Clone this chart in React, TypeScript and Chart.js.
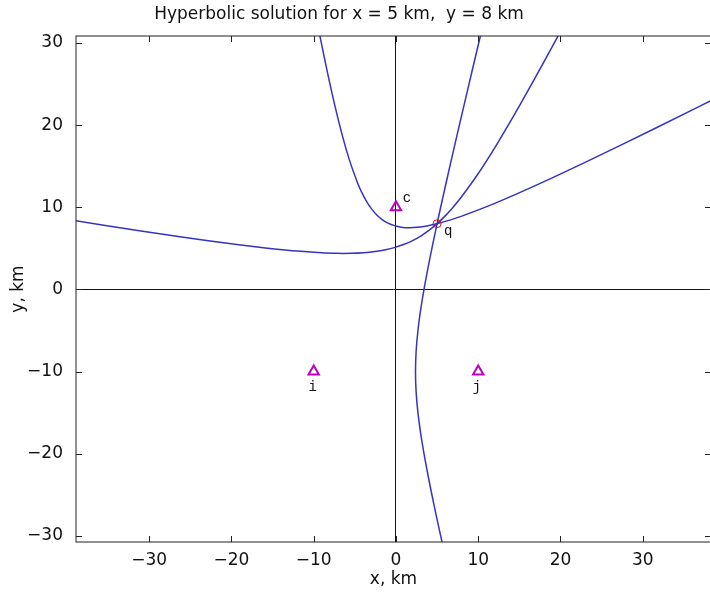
import React, { useEffect, useRef } from 'react';
import { Chart, registerables } from 'chart.js';

Chart.register(...registerables);

// ---- text ----
const chartTitle = 'Hyperbolic solution for x = 5 km,  y = 8 km';
const xAxisLabel = 'x, km';
const yAxisLabel = 'y, km';
const xTickValues = [-30, -20, -10, 0, 10, 20, 30];
const yTickValues = [-30, -20, -10, 0, 10, 20, 30];

// ---- stations and the located source ----
const stationNames = ['c', 'i', 'j'];
const stationX = [0, -10, 10];
const stationY = [10, -10, -10];
const targetName = 'q';
const targetX = [5];
const targetY = [8];

// ---- hyperbola branch for the c / i pair ----
const branchCIx = [-9.517, -8.082, -6.84, -5.713, -4.632, -4.087, -3.527, -2.945, -2.33, -1.673, -0.965, -0.193, 0.654, 1.589, 2.627, 3.785, 5.08, 6.533, 8.166, 12.08, 17.066, 23.439, 31.598, 42.057];
const branchCIy = [32.161, 25.272, 19.97, 15.923, 12.876, 11.666, 10.639, 9.778, 9.07, 8.503, 8.07, 7.763, 7.578, 7.511, 7.562, 7.731, 8.02, 8.436, 8.983, 10.51, 12.698, 15.683, 19.654, 24.859];

// ---- hyperbola branch for the c / j pair ----
const branchCJx = [-46.979, -35.346, -26.248, -19.114, -13.494, -9.037, -7.154, -5.461, -3.932, -2.542, -1.271, -0.098, 0.996, 2.027, 3.011, 3.964, 4.901, 5.837, 6.786, 7.762, 9.861, 12.265, 15.126, 18.622, 22.974];
const branchCJy = [9.664, 7.792, 6.409, 5.429, 4.79, 4.452, 4.388, 4.393, 4.467, 4.611, 4.826, 5.118, 5.489, 5.946, 6.497, 7.149, 7.913, 8.8, 9.825, 11.004, 13.9, 17.669, 22.548, 28.844, 36.951];

// ---- hyperbola branch for the i / j pair ----
const branchIJx = [5.991, 5.435, 4.893, 4.369, 3.87, 3.408, 3.0, 2.671, 2.452, 2.375, 2.452, 2.671, 3.0, 3.408, 3.87, 4.369, 4.893, 5.435, 5.991, 6.556, 7.129, 7.708, 8.292, 8.879, 9.47, 10.062, 10.657];
const branchIJy = [-32.5, -30, -27.5, -25, -22.5, -20, -17.5, -15, -12.5, -10, -7.5, -5, -2.5, 0, 2.5, 5, 7.5, 10, 12.5, 15, 17.5, 20, 22.5, 25, 27.5, 30, 32.5];

const toPoints = (xs: number[], ys: number[]) => xs.map((x, k) => ({ x, y: ys[k] }));

const curveColor = 'rgb(52, 52, 190)';
const stationColor = '#bf00bf';
const targetColor = '#e01010';
const axisFont = '"DejaVu Sans", sans-serif';
const tickFmt = (v: number) => (v < 0 ? '\u2212' + Math.abs(v) : String(v));

// frame with inward ticks, title and marker labels
const framePlugin = {
  id: 'frame',
  afterDatasetsDraw(chart: any) {
    const { ctx, scales } = chart;
    const xs = scales.x;
    const ys = scales.y;
    ctx.save();
    ctx.fillStyle = '#111';
    ctx.font = '14px "Liberation Mono", monospace';
    ctx.textAlign = 'center';
    ctx.textBaseline = 'middle';
    const offsets: Record<string, [number, number]> = { c: [11, -9], i: [-1, 16], j: [-1.5, 16] };
    stationNames.forEach((n, k) => {
      const px = xs.getPixelForValue(stationX[k]);
      const py = ys.getPixelForValue(stationY[k]);
      const o = offsets[n] || [0, 16];
      ctx.fillText(n, px + o[0], py + o[1]);
    });
    ctx.fillText(
      targetName,
      xs.getPixelForValue(targetX[0]) + 11,
      ys.getPixelForValue(targetY[0]) + 8
    );
    ctx.restore();
  },
  afterDraw(chart: any) {
    const { ctx, chartArea: a, scales } = chart;
    const xs = scales.x;
    const ys = scales.y;
    ctx.save();
    ctx.strokeStyle = '#222';
    ctx.lineWidth = 1;
    ctx.strokeRect(a.left, a.top, a.right - a.left, a.bottom - a.top);
    const tl = 6;
    ctx.beginPath();
    xs.ticks.forEach((t: any) => {
      const px = Math.round(xs.getPixelForValue(t.value)) + 0.5;
      ctx.moveTo(px, a.bottom);
      ctx.lineTo(px, a.bottom - tl);
      ctx.moveTo(px, a.top);
      ctx.lineTo(px, a.top + tl);
    });
    ys.ticks.forEach((t: any) => {
      const py = Math.round(ys.getPixelForValue(t.value)) + 0.5;
      ctx.moveTo(a.left, py);
      ctx.lineTo(a.left + tl, py);
      ctx.moveTo(a.right, py);
      ctx.lineTo(a.right - tl, py);
    });
    ctx.stroke();
    ctx.fillStyle = '#111';
    ctx.font = '17px ' + axisFont;
    ctx.textAlign = 'center';
    ctx.textBaseline = 'alphabetic';
    ctx.fillText(chartTitle, 339, 19);
    ctx.restore();
  },
};

const zeroLine = (c: any) => (c.tick && c.tick.value === 0 ? '#111' : 'rgba(0,0,0,0)');

const curveStyle = {
  showLine: true,
  borderColor: curveColor,
  borderWidth: 1.5,
  pointRadius: 0,
  tension: 0.35,
  order: 1,
};

export default function App() {
  const ref = useRef<HTMLCanvasElement | null>(null);

  useEffect(() => {
    if (!ref.current) return;
    const chart = new Chart(ref.current, {
      type: 'scatter',
      data: {
        datasets: [
          {
            data: toPoints(stationX, stationY),
            pointStyle: 'triangle',
            pointRadius: 6,
            borderColor: stationColor,
            backgroundColor: 'rgba(0,0,0,0)',
            borderWidth: 2,
            showLine: false,
            order: 0,
          },
          {
            data: toPoints(targetX, targetY),
            pointStyle: 'circle',
            pointRadius: 4,
            borderColor: targetColor,
            backgroundColor: 'rgba(0,0,0,0)',
            borderWidth: 1,
            showLine: false,
            order: 0,
          },
          { data: toPoints(branchCIx, branchCIy), ...curveStyle },
          { data: toPoints(branchCJx, branchCJy), ...curveStyle },
          { data: toPoints(branchIJx, branchIJy), ...curveStyle },
        ],
      },
      options: {
        animation: false,
        responsive: false,
        devicePixelRatio: 1,
        layout: { autoPadding: false, padding: { top: 36, right: 1, left: 0, bottom: 0 } },
        plugins: {
          legend: { display: false },
          tooltip: { enabled: false },
          title: { display: false },
        },
        scales: {
          x: {
            type: 'linear',
            min: -38.9,
            max: 38.3,
            afterBuildTicks: (s: any) => {
              s.ticks = xTickValues.map((value) => ({ value }));
            },
            afterFit: (s: any) => {
              s.height = 52;
              s.paddingLeft = 0;
              s.paddingRight = 0;
            },
            grid: { color: zeroLine, lineWidth: 1, drawTicks: false },
            border: { display: false },
            ticks: {
              autoSkip: false,
              maxRotation: 0,
              padding: 8,
              color: '#111',
              font: { family: axisFont, size: 17 },
              callback: (v: any) => tickFmt(Number(v)),
            },
            title: {
              display: true,
              text: xAxisLabel,
              color: '#111',
              font: { family: axisFont, size: 17 },
              padding: { top: 0, bottom: 4 },
            },
          },
          y: {
            type: 'linear',
            min: -30.75,
            max: 30.85,
            afterBuildTicks: (s: any) => {
              s.ticks = yTickValues.map((value) => ({ value }));
            },
            afterFit: (s: any) => {
              s.width = 76;
              s.paddingTop = 0;
              s.paddingBottom = 0;
            },
            grid: { color: zeroLine, lineWidth: 1, drawTicks: false },
            border: { display: false },
            ticks: {
              autoSkip: false,
              padding: 13,
              color: '#111',
              font: { family: axisFont, size: 17 },
              callback: (v: any) => tickFmt(Number(v)),
            },
            title: {
              display: true,
              text: yAxisLabel,
              color: '#111',
              font: { family: axisFont, size: 17 },
              padding: { top: 8, bottom: 0 },
            },
          },
        },
      },
      plugins: [framePlugin],
    } as any);
    return () => chart.destroy();
  }, []);

  return (
    <div style={{ position: 'absolute', left: 0, top: 0, width: 710, height: 594, overflow: 'hidden', background: '#fff' }}>
      <canvas ref={ref} width={712} height={594} style={{ width: 712, height: 594, display: 'block' }} />
    </div>
  );
}
